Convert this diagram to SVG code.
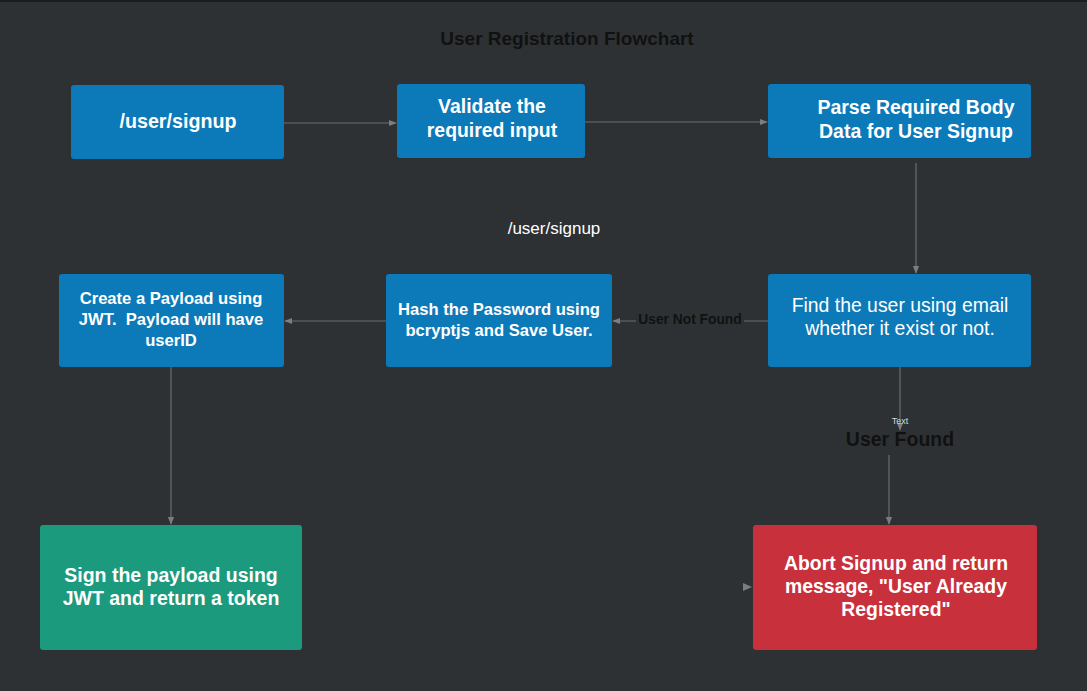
<svg xmlns="http://www.w3.org/2000/svg" width="1087" height="691" viewBox="0 0 1087 691">
<defs>
<style>
.bg{fill:#2d3133}
.node{fill:#0c79b8}
.green{fill:#1b9a7e}
.red{fill:#c8303b}
.t{font-family:"Liberation Sans",Arial,sans-serif;fill:#ffffff;text-anchor:middle;font-weight:bold}
.tn{font-family:"Liberation Sans",Arial,sans-serif;fill:#ffffff;text-anchor:middle}
.dark{font-family:"Liberation Sans",Arial,sans-serif;fill:#111111;text-anchor:middle;font-weight:bold}
.c{stroke:#6a6e70;stroke-width:1.2;fill:none;marker-end:url(#ah)}
</style>
<marker id="ah" viewBox="0 0 10 10" refX="9" refY="5" markerWidth="8" markerHeight="8" markerUnits="userSpaceOnUse" orient="auto">
<path d="M0,1 L10,5 L0,9 z" fill="#7a7e80"/>
</marker>
</defs>
<rect class="bg" x="0" y="0" width="1087" height="691"/>
<rect x="0" y="0" width="1087" height="2" fill="#1a1c1d"/>
<text class="dark" x="567" y="45" font-size="19">User Registration Flowchart</text>
<text class="tn" x="554" y="234" font-size="17">/user/signup</text>

<g id="connectors">
<path class="c" d="M284,123 L396,123"/>
<path class="c" d="M567,122 L767,122"/>
<path class="c" d="M916,163 L916,273"/>
<path class="c" d="M768,321 L613,321"/>
<path class="c" d="M386,321 L285,321"/>
<path class="c" d="M171,367 L171,524"/>
<path class="c" d="M900,367 L900,430"/>
<path class="c" d="M889,455 L889,524"/>
<path d="M743,583 L752,587 L743,591 z" fill="#7a7e80"/>
<rect x="636" y="312" width="108" height="18" fill="#2d3133"/>
<text class="dark" x="690" y="324" font-size="13.8">User Not Found</text>
<text x="900" y="424" font-size="9" font-family="Liberation Sans,Arial,sans-serif" text-anchor="middle" fill="#d8d8d8">Text</text>
<text x="900" y="446" font-size="19.5" font-family="Liberation Sans,Arial,sans-serif" text-anchor="middle" fill="#111111" font-weight="bold">User Found</text>
</g>

<g id="n1"><rect class="node" x="71" y="85" width="213" height="74" rx="3"/><text class="t" x="178" y="128" font-size="19.7">/user/signup</text></g>
<g id="n2"><rect class="node" x="397" y="84" width="188" height="74" rx="3"/><text class="t" x="492" y="113" font-size="19.4">Validate the</text><text class="t" x="492" y="137" font-size="19.4">required input</text></g>
<g id="n3"><rect class="node" x="768" y="84" width="263" height="74" rx="3"/><text class="t" x="916" y="114" font-size="19.5">Parse Required Body</text><text class="t" x="916" y="138" font-size="19.5">Data for User Signup</text></g>
<g id="n4"><rect class="node" x="768" y="274" width="263" height="93" rx="3"/><text class="tn" x="900" y="312" font-size="19.4">Find the user using email</text><text class="tn" x="900" y="335" font-size="19.4">whether it exist or not.</text></g>
<g id="n5"><rect class="node" x="386" y="274" width="226" height="93" rx="3"/><text class="t" x="499" y="315" font-size="16.6">Hash the Password using</text><text class="t" x="499" y="336" font-size="16.6">bcryptjs and Save User.</text></g>
<g id="n6"><rect class="node" x="59" y="274" width="225" height="93" rx="3"/><text class="t" x="171" y="304" font-size="16.6">Create a Payload using</text><text class="t" x="171" y="325" font-size="16.6" xml:space="preserve">JWT.  Payload will have</text><text class="t" x="171" y="346" font-size="16.6">userID</text></g>
<g id="n7"><rect class="green" x="40" y="525" width="262" height="125" rx="3"/><text class="t" x="171" y="582" font-size="19.5">Sign the payload using</text><text class="t" x="171" y="605" font-size="19.5">JWT and return a token</text></g>
<g id="n8"><rect class="red" x="753" y="525" width="284" height="125" rx="3"/><text class="t" x="896" y="570" font-size="19.4">Abort Signup and return</text><text class="t" x="896" y="593" font-size="19.4">message, "User Already</text><text class="t" x="896" y="616" font-size="19.4">Registered"</text></g>
</svg>
